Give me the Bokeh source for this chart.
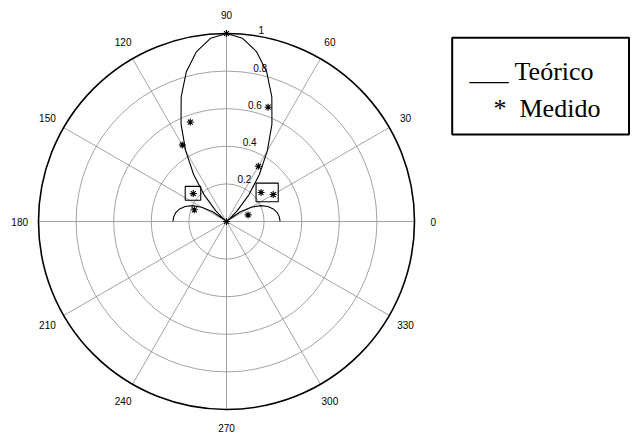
import numpy as np
from bokeh.plotting import figure
from bokeh.models import Range1d
from bokeh.embed import file_html
from bokeh.resources import INLINE
from bokeh.core.properties import value

# ---- data ----
theta_theo = [0, 5, 10, 15, 20, 25, 30, 35, 40, 45, 50, 55, 60, 65, 70, 75, 80, 85, 90,
              95, 100, 105, 110, 115, 120, 125, 130, 135, 140, 145, 150, 155, 160, 165, 170, 175, 180]
r_theo = [0.285, 0.282, 0.274, 0.258, 0.234, 0.200, 0.152, 0.090, 0.012, 0.080, 0.185, 0.305,
          0.435, 0.572, 0.705, 0.825, 0.918, 0.978, 1.000, 0.978, 0.918, 0.825, 0.705, 0.572,
          0.435, 0.305, 0.185, 0.080, 0.012, 0.090, 0.152, 0.200, 0.234, 0.258, 0.274, 0.282, 0.285]

theta_med = [17, 30, 40, 50, 60, 70, 90, 110, 120, 140, 160]
r_med = [0.120, 0.287, 0.240, 0.000, 0.339, 0.647, 1.000, 0.563, 0.470, 0.231, 0.182]

ring_values = [0.2, 0.4, 0.6, 0.8, 1.0]
ring_labels = ["0.2", "0.4", "0.6", "0.8", "1"]
spoke_angles = [0, 30, 60, 90, 120, 150, 180, 210, 240, 270, 300, 330]
spoke_labels = ["0", "30", "60", "90", "120", "150", "180", "210", "240", "270", "300", "330"]
legend_texts = ["___ Teórico", "*", "Medido"]

# ---- layout ----
W, H = 635, 434
PX = 188.0            # pixels per unit radius
CX, CY = 226, 221     # polar centre in canvas pixels (from left / top)

def img(ix, iy):
    # canvas pixel position -> data coordinates
    return ((ix - CX) / PX, (CY - iy) / PX)

p = figure(width=W, height=H, output_backend="svg", toolbar_location=None,
           x_range=Range1d(-CX / PX, (W - CX) / PX),
           y_range=Range1d(-(H - CY) / PX, CY / PX),
           x_axis_location=None, y_axis_location=None, min_border=0)
p.grid.visible = False
p.outline_line_color = None
p.background_fill_color = "white"
p.border_fill_color = "white"

GRAY = "#8c8c8c"
# spokes
sp = np.radians(np.array(spoke_angles[:6], dtype=float))
p.segment(x0=-np.cos(sp), y0=-np.sin(sp), x1=np.cos(sp), y1=np.sin(sp),
          line_color=GRAY, line_width=0.8)
# rings
p.circle(x=[0] * 4, y=[0] * 4, radius=ring_values[:4], fill_color=None,
         line_color=GRAY, line_width=0.8)
p.circle(x=[0], y=[0], radius=[ring_values[-1]], fill_color=None,
         line_color="black", line_width=1.6)

# ring labels
c82, s82 = np.cos(np.radians(82)), np.sin(np.radians(82))
rv = np.array(ring_values)
p.text(x=(rv + 0.01) * c82, y=(rv + 0.01) * s82, text=ring_labels,
       text_font=value("Liberation Sans"), text_font_size="10px", text_color="black",
       text_align="left", text_baseline="alphabetic", x_offset=5.5, y_offset=-3)

# angle labels
sa = np.radians(np.array(spoke_angles, dtype=float))
p.text(x=1.1 * np.cos(sa), y=1.1 * np.sin(sa), text=spoke_labels,
       text_font=value("Liberation Sans"), text_font_size="10px", text_color="black",
       text_align="center", text_baseline="middle")

# theoretical curve
tt = np.radians(np.array(theta_theo, dtype=float))
rt = np.array(r_theo)
p.line(x=rt * np.cos(tt), y=rt * np.sin(tt), line_color="black", line_width=1.1)

# measured points
tm = np.radians(np.array(theta_med, dtype=float))
rm = np.array(r_med)
xm, ym = rm * np.cos(tm), rm * np.sin(tm)
p.scatter(x=xm, y=ym, marker="asterisk", size=7, line_color="black", line_width=1.1)

# boxes around highlighted measured points
i140 = theta_med.index(140)
i40, i30 = theta_med.index(40), theta_med.index(30)
bl = [xm[i140] - 8.0 / PX, min(xm[i40], xm[i30]) - 5.0 / PX]
br = [xm[i140] + 7.5 / PX, max(xm[i40], xm[i30]) + 5.0 / PX]
bt = [ym[i140] + 7.2 / PX, max(ym[i40], ym[i30]) + 9.4 / PX]
bb = [ym[i140] - 6.6 / PX, min(ym[i40], ym[i30]) - 7.3 / PX]
p.quad(left=bl, right=br, top=bt, bottom=bb, fill_color=None,
       line_color="black", line_width=1.1)

# legend box
l0, t0 = img(451.7, 37.3)
r0, b0 = img(628.5, 134.0)
p.quad(left=[l0], right=[r0], top=[t0], bottom=[b0], fill_color="white",
       line_color="black", line_width=2)
x1, y1 = img(469, 70.7)
x2, y2 = img(493, 108.3)
x3, y3 = img(519, 108.3)
p.text(x=[x1, x2, x3], y=[y1, y2, y3], text=legend_texts,
       text_font=value("Liberation Serif"), text_font_size="26px", text_color="black",
       text_align="left", text_baseline="alphabetic")

open("out.html", "w").write(file_html(p, INLINE))
